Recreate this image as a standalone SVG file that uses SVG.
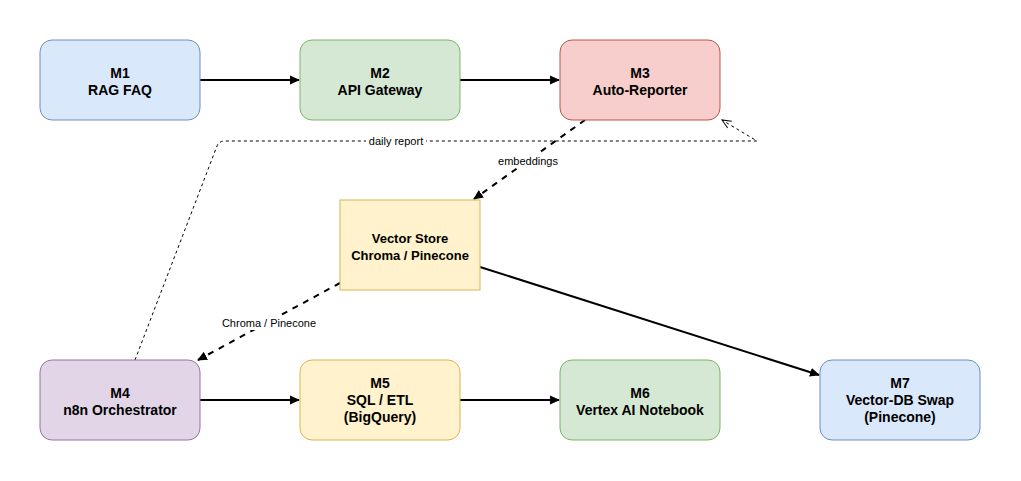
<svg xmlns="http://www.w3.org/2000/svg" width="1021" height="481" viewBox="0 0 1021 481">
<defs>
<style>
.n text{font-family:"Liberation Sans",Arial,sans-serif;font-size:14px;font-weight:bold;fill:#000;text-anchor:middle}
#VS text{font-size:13px}
.lbl{font-family:"Liberation Sans",Arial,sans-serif;font-size:11px;fill:#000;text-anchor:middle}
.e{fill:none;stroke:#000;stroke-width:2}
.d{stroke-dasharray:6 6}
.blue{fill:#dae8fc;stroke:#6c8ebf}
.green{fill:#d5e8d4;stroke:#82b366}
.red{fill:#f8cecc;stroke:#b85450}
.yellow{fill:#fff2cc;stroke:#d6b656}
.purple{fill:#e1d5e7;stroke:#9673a6}
</style>
<marker id="arr" markerWidth="10" markerHeight="10" refX="9" refY="5" orient="auto" markerUnits="userSpaceOnUse" viewBox="0 0 10 10">
<path d="M0,0.5 L10,5 L0,9.5 Z" fill="#000"/>
</marker>
<marker id="open" markerWidth="12" markerHeight="12" refX="11" refY="6" orient="auto" markerUnits="userSpaceOnUse" viewBox="0 0 12 12">
<path d="M2,2 L11,6 L2,10" fill="none" stroke="#000" stroke-width="1"/>
</marker>
</defs>
<rect width="1021" height="481" fill="#fff"/>
<g id="connectors">
<line class="e" x1="200" y1="80" x2="299" y2="80" marker-end="url(#arr)"/>
<line class="e" x1="460" y1="80" x2="559" y2="80" marker-end="url(#arr)"/>
<line class="e" x1="200" y1="400" x2="299" y2="400" marker-end="url(#arr)"/>
<line class="e" x1="460" y1="400" x2="559" y2="400" marker-end="url(#arr)"/>
<line class="e d" x1="585" y1="120" x2="474" y2="199" marker-end="url(#arr)"/>
<line class="e d" x1="340" y1="283" x2="198" y2="360" marker-end="url(#arr)"/>
<line class="e" x1="480" y1="267" x2="819" y2="375" marker-end="url(#arr)"/>
<path d="M135,360 L217,146 Q219,141 225,141 L757,141 L722,120" fill="none" stroke="#000" stroke-width="1" stroke-dasharray="3 3" marker-end="url(#open)"/>
<rect x="366" y="134" width="60" height="14" fill="#fff"/>
<text class="lbl" x="396" y="145">daily report</text>
<rect x="497" y="154" width="62" height="14" fill="#fff"/>
<text class="lbl" x="528" y="165">embeddings</text>
<rect x="216" y="316" width="106" height="14" fill="#fff"/>
<text class="lbl" x="269" y="327">Chroma / Pinecone</text>
</g>
<g id="M1" class="n"><rect class="blue" x="40" y="40" width="160" height="80" rx="12"/><text x="120" y="78">M1</text><text x="120" y="95">RAG FAQ</text></g>
<g id="M2" class="n"><rect class="green" x="300" y="40" width="160" height="80" rx="12"/><text x="380" y="78">M2</text><text x="380" y="95">API Gateway</text></g>
<g id="M3" class="n"><rect class="red" x="560" y="40" width="160" height="80" rx="12"/><text x="640" y="78">M3</text><text x="640" y="95">Auto-Reporter</text></g>
<g id="VS" class="n"><rect class="yellow" x="340" y="200" width="140" height="90"/><text x="410" y="243">Vector Store</text><text x="410" y="259.5">Chroma / Pinecone</text></g>
<g id="M4" class="n"><rect class="purple" x="40" y="360" width="160" height="80" rx="12"/><text x="120" y="398">M4</text><text x="120" y="415">n8n Orchestrator</text></g>
<g id="M5" class="n"><rect class="yellow" x="300" y="360" width="160" height="80" rx="12"/><text x="380" y="388">M5</text><text x="380" y="405">SQL / ETL</text><text x="380" y="422">(BigQuery)</text></g>
<g id="M6" class="n"><rect class="green" x="560" y="360" width="160" height="80" rx="12"/><text x="640" y="398">M6</text><text x="640" y="415">Vertex AI Notebook</text></g>
<g id="M7" class="n"><rect class="blue" x="820" y="360" width="160" height="80" rx="12"/><text x="900" y="388">M7</text><text x="900" y="405">Vector-DB Swap</text><text x="900" y="422">(Pinecone)</text></g>
</svg>
